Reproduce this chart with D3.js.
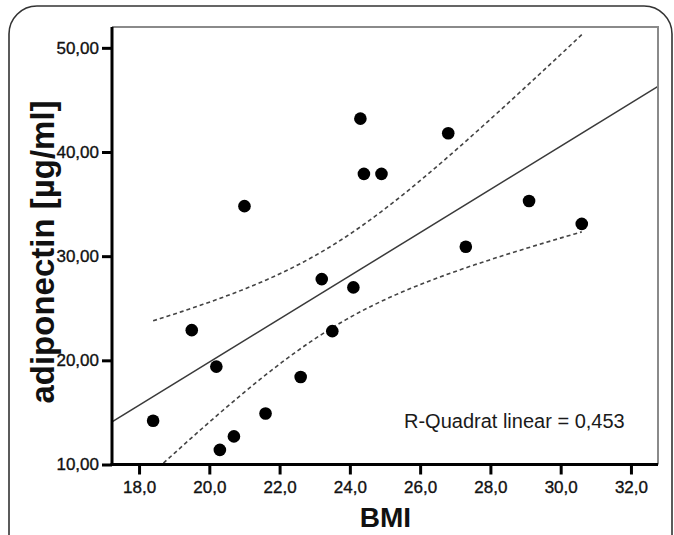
<!DOCTYPE html>
<html>
<head>
<meta charset="utf-8">
<script src="https://cdn.jsdelivr.net/npm/d3@7"></script>
<style>
  body { margin: 0; background: #fff; }
  svg { display: block; font-family: "Liberation Sans", Arial, sans-serif; }
</style>
</head>
<body>
<svg id="chart" width="674" height="535"></svg>
<script>
// BMI vs adiponectin
const bmi = [18.4, 19.5, 20.2, 20.3, 20.7, 21.6, 21.0, 22.6, 23.2, 23.5, 24.1, 24.3, 24.4, 24.9, 26.8, 27.3, 29.1, 30.6];
const adiponectin = [14.2, 22.9, 19.4, 11.4, 12.7, 14.9, 34.8, 18.4, 27.8, 22.8, 27.0, 43.2, 37.9, 37.9, 41.8, 30.9, 35.3, 33.1];

const xTicks = [18, 20, 22, 24, 26, 28, 30, 32];
const yTicks = [10, 20, 30, 40, 50];
const rSquareLabel = 'R-Quadrat linear = 0,453';
const xTitle = 'BMI';
const yTitle = 'adiponectin [µg/ml]';

const svg = d3.select('#chart');

// outer rounded frame (runs off the bottom of the picture)
svg.append('rect')
  .attr('x', 9).attr('y', 6)
  .attr('width', 663).attr('height', 600)
  .attr('rx', 28)
  .attr('fill', 'none')
  .attr('stroke', '#333')
  .attr('stroke-width', 1.6);

const plotLeft = 112, plotRight = 658, plotTop = 27, plotBottom = 464.5;

const x = d3.scaleLinear().domain([17.23, 32.77]).range([plotLeft, plotRight]);
const y = d3.scaleLinear().domain([10, 52]).range([plotBottom, plotTop]);

// least squares fit + 95% confidence band of the mean
const points = bmi.map((b, i) => ({ x: b, y: adiponectin[i] }));
const n = points.length;
const mx = d3.mean(bmi), my = d3.mean(adiponectin);
const sxx = d3.sum(bmi, v => (v - mx) ** 2);
const sxy = d3.sum(points, p => (p.x - mx) * (p.y - my));
const slope = sxy / sxx;
const intercept = my - slope * mx;
const fit = v => intercept + slope * v;
const sse = d3.sum(points, p => (p.y - fit(p.x)) ** 2);
const s = Math.sqrt(sse / (n - 2));
const tCrit = 2.1199; // t(0.975, df = 16)
const band = v => tCrit * s * Math.sqrt(1 / n + (v - mx) ** 2 / sxx);

svg.append('clipPath').attr('id', 'plot-clip')
  .append('rect')
  .attr('x', plotLeft).attr('y', plotTop)
  .attr('width', plotRight - plotLeft).attr('height', plotBottom - plotTop);

const plot = svg.append('g').attr('clip-path', 'url(#plot-clip)');

// top and right frame lines
svg.append('path')
  .attr('d', `M${plotLeft},${plotTop}H${plotRight}V${plotBottom}`)
  .attr('fill', 'none')
  .attr('stroke', '#8a8a8a')
  .attr('stroke-width', 2);

const line = d3.line().x(d => x(d[0])).y(d => y(d[1]));

// regression line across the whole plot
plot.append('path')
  .datum(x.domain().map(v => [v, fit(v)]))
  .attr('d', line)
  .attr('fill', 'none')
  .attr('stroke', '#3a3a3a')
  .attr('stroke-width', 1.5);

// confidence band, only over the data range
const [xmin, xmax] = d3.extent(bmi);
const xs = d3.range(0, 61).map(i => xmin + (xmax - xmin) * i / 60);

[1, -1].forEach(sign => {
  plot.append('path')
    .datum(xs.map(v => [v, fit(v) + sign * band(v)]))
    .attr('d', line)
    .attr('fill', 'none')
    .attr('stroke', '#444')
    .attr('stroke-width', 1.6)
    .attr('stroke-dasharray', '4,3');
});

// data points
plot.selectAll('circle')
  .data(points)
  .enter()
  .append('circle')
  .attr('cx', d => x(d.x))
  .attr('cy', d => y(d.y))
  .attr('r', 6.3)
  .attr('fill', '#000');

// axes
const xAxis = svg.append('g')
  .attr('transform', `translate(0,${plotBottom})`)
  .call(d3.axisBottom(x).tickValues(xTicks).tickSize(10).tickPadding(6)
    .tickFormat(d => d3.format('.1f')(d).replace('.', ',')));

const yAxis = svg.append('g')
  .attr('transform', `translate(${plotLeft},0)`)
  .call(d3.axisLeft(y).tickValues(yTicks).tickSize(10).tickPadding(3)
    .tickFormat(d => d3.format('.2f')(d).replace('.', ',')));

[xAxis, yAxis].forEach(g => {
  g.select('.domain').attr('stroke', '#000').attr('stroke-width', 3);
  g.selectAll('.tick line').attr('stroke', '#000').attr('stroke-width', 3);
  g.selectAll('.tick text')
    .attr('fill', '#111')
    .attr('stroke', '#111')
    .attr('stroke-width', 0.35)
    .style('font-size', '17px');
});
xAxis.select('.domain').attr('d', `M${plotLeft - 1.5},0H${plotRight}`);
yAxis.select('.domain').attr('d', `M0,${plotTop}V${plotBottom + 1.5}`);

// R square label
svg.append('text')
  .attr('x', 404)
  .attr('y', 428)
  .attr('fill', '#1a1a1a')
  .style('font-size', '20px')
  .text(rSquareLabel);

// axis titles
svg.append('text')
  .attr('x', (plotLeft + plotRight) / 2 + 0.5)
  .attr('y', 527)
  .attr('text-anchor', 'middle')
  .attr('fill', '#111')
  .style('font-size', '28px')
  .style('font-weight', 'bold')
  .text(xTitle);

svg.append('text')
  .attr('transform', 'translate(54,252) rotate(-90)')
  .attr('text-anchor', 'middle')
  .attr('fill', '#111')
  .style('font-size', '33px')
  .style('font-weight', 'bold')
  .text(yTitle);
</script>
</body>
</html>
